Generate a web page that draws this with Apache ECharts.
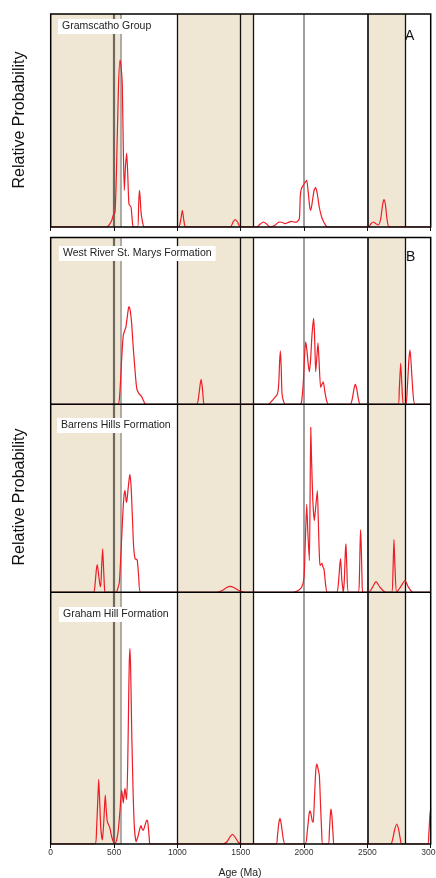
<!DOCTYPE html>
<html><head><meta charset="utf-8">
<script src="https://cdn.jsdelivr.net/npm/echarts@6/dist/echarts.min.js"></script>
<style>html,body{margin:0;padding:0;background:#fff}#c{width:436px;height:878px}</style>
</head><body><div id="c"></div>
<script>
// Age (Ma) tick labels
const ageTicks = [0, 500, 1000, 1500, 2000, 2500, 3000];
const panelNames = ['Gramscatho Group', 'West River St. Marys Formation', 'Barrens Hills Formation', 'Graham Hill Formation'];
// shaded age bands [from, to]
const bands = [[0, 550], [1000, 1600], [2500, 2800]];
// vertical reference ages
const refAges = [500, 550, 1000, 1500, 1600, 2000, 2500, 2800];
// relative probability curves: [age, relative probability]
const gramscatho = [[0,0],[440,0],[455,1],[480,6],[494,11.7],[508,15],[520,60],[535,140],[547,167],[556,160],[565,143],[573,80],[581,36.7],[590,60],[600,74],[609,50],[618,22.7],[634,20],[645,5],[652,0],[686,0],[694,20],[700,36.7],[706,30],[713,15],[725,5],[739,0],[1008,0],[1025,6],[1039,16.7],[1052,6],[1066,0],[1418,0],[1440,5],[1455,7.4],[1475,5],[1497,0],[1626,0],[1655,3],[1679,5],[1705,3],[1732,0],[1770,1.7],[1790,4],[1810,5],[1830,4.5],[1849,3.4],[1875,4.5],[1902,5.7],[1925,4.8],[1942,5],[1963,8.3],[1970,30],[1978,38],[1995,42],[2010,45],[2021,46.7],[2033,35],[2045,20],[2053,16.7],[2065,25],[2080,37],[2092,39.4],[2105,33],[2120,20],[2139,10],[2160,4],[2184,0],[2508,0],[2530,3.5],[2547,5],[2565,3.5],[2587,2],[2605,8],[2620,22],[2631,27.4],[2643,22],[2655,8],[2673,0],[3000,0]];
const westRiver = [[0,0],[529,0],[545,10],[560,45],[573,69],[585,74],[594,77.6],[605,88],[615,97],[621,97.6],[630,92],[639,81],[650,60],[665,35],[679,16],[695,11],[718,7.7],[735,3],[750,0],[1153,0],[1165,5],[1178,18],[1187,25],[1196,18],[1205,5],[1213,0],[1718,0],[1750,4],[1789,10],[1800,20],[1807,42],[1813,53.6],[1819,40],[1826,11],[1838,3],[1852,0],[1970,0],[1981,3],[1994,21],[2005,50],[2013,62.6],[2022,55],[2033,40],[2042,32.6],[2052,45],[2063,70],[2076,86],[2083,70],[2092,32.6],[2100,45],[2110,61.6],[2118,45],[2131,17],[2142,20],[2152,22.6],[2165,12],[2180,3],[2192,0],[2365,0],[2380,5],[2395,16],[2405,20],[2415,16],[2430,5],[2444,0],[2744,0],[2752,15],[2763,41],[2772,20],[2784,0],[2805,0],[2815,15],[2828,45],[2837,54.3],[2846,40],[2860,12],[2876,0],[3000,0]];
const barrensHills = [[0,0],[337,0],[350,8],[360,22],[368,27.7],[378,18],[388,8],[395,5.7],[402,25],[410,43.4],[417,25],[424,6],[431,0],[516,0],[530,4],[542,10],[555,40],[570,80],[580,98],[587,101.7],[595,92],[600,90],[610,102],[620,114],[626,117.7],[635,105],[645,75],[655,45],[666,33.4],[676,33],[684,31.7],[695,15],[711,0],[1311,0],[1350,1.5],[1390,4.8],[1415,6],[1445,4.8],[1490,1.5],[1535,0],[1915,0],[1950,1.5],[1981,5],[2000,15],[2010,50],[2021,88],[2030,60],[2042,31.7],[2048,100],[2053,165],[2060,130],[2070,90],[2081,71.7],[2092,85],[2105,101.7],[2113,70],[2120,40],[2126,26.7],[2134,28],[2142,29],[2150,25],[2158,23],[2170,8],[2184,0],[2258,0],[2272,10],[2283,28],[2289,33.4],[2297,15],[2310,0],[2318,12],[2326,40],[2331,48.4],[2338,25],[2352,0],[2428,0],[2437,15],[2443,50],[2447,62.4],[2452,45],[2458,12],[2463,0],[2513,0],[2540,5],[2568,10.7],[2600,5],[2644,0],[2692,0],[2702,20],[2710,52.7],[2718,25],[2731,0],[2760,5],[2797,11.7],[2825,5],[2858,0],[3000,0]];
const grahamHill = [[0,0],[350,0],[362,15],[372,45],[379,64.7],[386,45],[396,15],[408,4],[418,20],[426,40],[431,49],[438,35],[447,22.3],[458,19],[468,15.7],[480,8],[495,2.3],[510,1],[522,5],[534,14],[548,35],[560,54],[567,48],[573,41],[580,50],[587,55.7],[594,48],[600,44.7],[608,80],[615,140],[620,180],[626,195.7],[632,170],[640,110],[650,55],[660,18],[674,2.3],[690,8],[705,16],[713,18.3],[722,15],[731,13.7],[745,19],[755,23],[763,24],[770,18],[778,6],[784,0],[1358,0],[1390,2],[1415,7],[1434,9.7],[1455,7],[1480,2],[1508,0],[1779,0],[1790,8],[1800,20],[1810,25.7],[1820,20],[1835,6],[1850,0],[2008,0],[2025,12],[2040,30],[2047,33.3],[2055,30],[2065,23],[2073,21.7],[2082,45],[2092,72],[2100,80],[2110,76],[2121,68.3],[2130,40],[2140,10],[2147,0],[2192,0],[2200,12],[2208,30],[2213,35],[2220,28],[2230,8],[2239,0],[2684,0],[2700,5],[2715,14],[2732,20],[2748,14],[2760,5],[2771,0],[2976,0],[2985,10],[2994,29],[3000,35]];
const curves = [gramscatho, westRiver, barrensHills, grahamHill];
const yMax = [213, 167, 188, 252];

const FONT = 'Arial, "Liberation Sans", Helvetica, sans-serif';
const L = 50.7, W = 380;
const grids = [
  {top: 14, height: 213},
  {top: 237.5, height: 166.8},
  {top: 404.3, height: 188},
  {top: 592.3, height: 251.7}
];
const refStyles = {
  500: {color: '#6e6a62', width: 2.2},
  550: {color: '#9a9894', width: 1.6},
  1000: {color: '#111', width: 1.3},
  1500: {color: '#111', width: 1.3},
  1600: {color: '#111', width: 1.3},
  2000: {color: '#8a8a8a', width: 1.6},
  2500: {color: '#333', width: 2},
  2800: {color: '#111', width: 1.3}
};

const option = {
  animation: false,
  backgroundColor: '#fff',
  grid: grids.map(g => ({left: L, width: W, top: g.top, height: g.height, show: false, containLabel: false, outerBoundsMode: 'none'})),
  xAxis: grids.map((g, i) => ({
    gridIndex: i, type: 'value', min: ageTicks[0], max: ageTicks[ageTicks.length - 1], interval: 500,
    splitLine: {show: false},
    axisLine: {show: false},
    axisTick: {show: i === 0 || i === 3, length: 4, lineStyle: {color: '#111', width: 1}},
    axisLabel: {show: i === 3, fontSize: 8.5, color: '#333', margin: 4, fontFamily: FONT, hideOverlap: false,
      formatter: v => ageTicks.includes(v) ? String(v) : ''}
  })),
  yAxis: grids.map((g, i) => ({gridIndex: i, type: 'value', min: 0, max: yMax[i], show: false})),
  series: curves.map((d, i) => ({
    type: 'line', xAxisIndex: i, yAxisIndex: i, data: d, showSymbol: false, smooth: 0.2,
    lineStyle: {color: '#ee1c25', width: 1.2}, z: 5, silent: true,
    markArea: {silent: true, itemStyle: {color: '#efe6d3'}, data: bands.map(b => [{xAxis: b[0]}, {xAxis: b[1]}])},
    markLine: {silent: true, symbol: 'none', label: {show: false}, animation: false,
      data: refAges.map(a => ({xAxis: a, lineStyle: {color: refStyles[a].color, width: refStyles[a].width, type: 'solid'}}))}
  })),
  graphic: [
    {type: 'rect', z: 100, shape: {x: L, y: 14, width: W, height: 213}, style: {fill: 'none', stroke: '#000', lineWidth: 1.5}},
    {type: 'rect', z: 100, shape: {x: L, y: 237.5, width: W, height: 606.5}, style: {fill: 'none', stroke: '#000', lineWidth: 1.5}},
    {type: 'line', z: 100, shape: {x1: L, y1: 404.3, x2: L + W, y2: 404.3}, style: {stroke: '#000', lineWidth: 1.5}},
    {type: 'line', z: 100, shape: {x1: L, y1: 592.3, x2: L + W, y2: 592.3}, style: {stroke: '#000', lineWidth: 1.5}},
    {type: 'text', z: 101, left: 58, top: 19, style: {text: panelNames[0], font: '10.5px ' + FONT, fill: '#222', backgroundColor: '#fff', padding: [2, 4, 2, 4]}},
    {type: 'text', z: 101, left: 59, top: 246, style: {text: panelNames[1], font: '10.5px ' + FONT, fill: '#222', backgroundColor: '#fff', padding: [2, 4, 2, 4]}},
    {type: 'text', z: 101, left: 57, top: 418, style: {text: panelNames[2], font: '10.5px ' + FONT, fill: '#222', backgroundColor: '#fff', padding: [2, 4, 2, 4]}},
    {type: 'text', z: 101, left: 59, top: 607, style: {text: panelNames[3], font: '10.5px ' + FONT, fill: '#222', backgroundColor: '#fff', padding: [2, 4, 2, 4]}},
    {type: 'text', z: 101, left: 405, top: 29, style: {text: 'A', font: '14px ' + FONT, fill: '#111'}},
    {type: 'text', z: 101, left: 406, top: 250, style: {text: 'B', font: '14px ' + FONT, fill: '#111'}},
    {type: 'text', z: 101, x: 20, y: 120, rotation: Math.PI / 2, style: {text: 'Relative Probability', font: '16px ' + FONT, fill: '#111', align: 'center', verticalAlign: 'middle'}},
    {type: 'text', z: 101, x: 20, y: 497, rotation: Math.PI / 2, style: {text: 'Relative Probability', font: '16px ' + FONT, fill: '#111', align: 'center', verticalAlign: 'middle'}},
    {type: 'text', z: 101, x: 240, y: 873, style: {text: 'Age (Ma)', font: '10.5px ' + FONT, fill: '#222', align: 'center', verticalAlign: 'middle'}}
  ]
};
const chart = echarts.init(document.getElementById('c'), null, {renderer: 'canvas'});
chart.setOption(option);
</script></body></html>
